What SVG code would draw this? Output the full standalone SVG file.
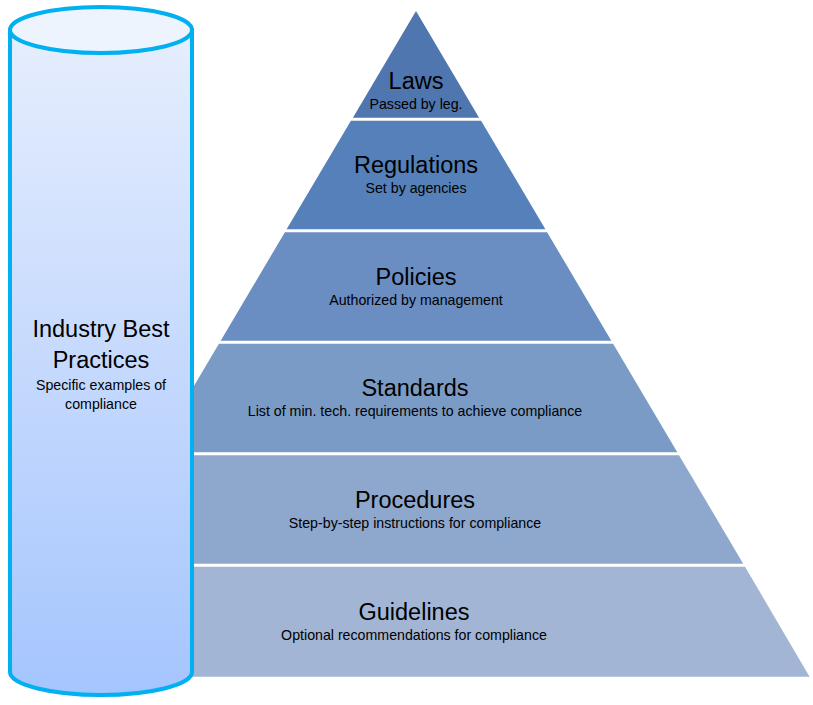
<svg xmlns="http://www.w3.org/2000/svg" width="813" height="705" viewBox="0 0 813 705">
<defs>
<linearGradient id="cylFill" x1="0" y1="0" x2="0" y2="1">
<stop offset="0" stop-color="#e6eefd"/>
<stop offset="1" stop-color="#a5c5fe"/>
</linearGradient>
<style>
.t{font-family:"Liberation Sans",Arial,sans-serif;font-size:23.5px;fill:#000;text-anchor:middle}
.s{font-family:"Liberation Sans",Arial,sans-serif;font-size:14.2px;fill:#000;text-anchor:middle}
.cyl{stroke:#00b0f0;stroke-width:4}
</style>
</defs>
<rect width="813" height="705" fill="#fff"/>
<g id="pyramid">
<g id="laws">
<polygon points="416,11 479.1,117.7 352.9,117.7" fill="#4f76ae"/>
<text class="t" x="416" y="89">Laws</text>
<text class="s" x="416" y="109">Passed by leg.</text>
</g>
<g id="regulations">
<polygon points="350.9,120.7 481.1,120.7 545.4,229.2 286.6,229.2" fill="#5580b9"/>
<text class="t" x="416" y="173">Regulations</text>
<text class="s" x="416" y="193">Set by agencies</text>
</g>
<g id="policies">
<polygon points="284.9,232.2 547.1,232.2 611.3,340.7 220.7,340.7" fill="#6a8dc2"/>
<text class="t" x="416" y="285">Policies</text>
<text class="s" x="416" y="305">Authorized by management</text>
</g>
<g id="standards">
<polygon points="218.9,343.7 613.1,343.7 677.3,452.2 154.7,452.2" fill="#7a9bc6"/>
<text class="t" x="415" y="396">Standards</text>
<text class="s" x="415" y="416">List of min. tech. requirements to achieve compliance</text>
</g>
<g id="procedures">
<polygon points="153,455.2 679,455.2 743.2,563.7 88.8,563.7" fill="#8ea7cc"/>
<text class="t" x="415" y="508">Procedures</text>
<text class="s" x="415" y="528">Step-by-step instructions for compliance</text>
</g>
<g id="guidelines">
<polygon points="87,566.7 745,566.7 809.6,676.7 22.4,676.7" fill="#a2b5d4"/>
<text class="t" x="414" y="620">Guidelines</text>
<text class="s" x="414" y="640">Optional recommendations for compliance</text>
</g>
</g>
<g id="industry-best-practices">
<path class="cyl" d="M10,30 L10,672 A91,23 0 0 0 192,672 L192,30 Z" fill="url(#cylFill)"/>
<ellipse class="cyl" cx="101" cy="30" rx="91" ry="23" fill="#eef4fe"/>
<text class="t" x="101" y="337">Industry Best</text>
<text class="t" x="101" y="368">Practices</text>
<text class="s" x="101" y="390">Specific examples of</text>
<text class="s" x="101" y="409">compliance</text>
</g>
<g id="connectors"/>
</svg>
